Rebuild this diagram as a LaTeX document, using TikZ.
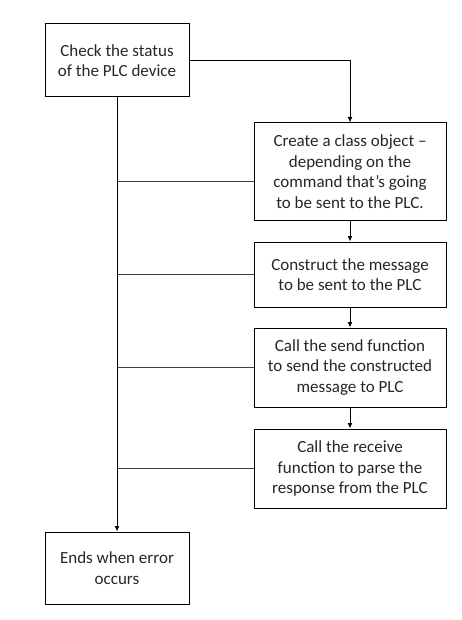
\documentclass[tikz,border=0pt]{standalone}
\usepackage{fontspec}
\setmainfont{Carlito}
\usetikzlibrary{arrows.meta}
\begin{document}
\begin{tikzpicture}[x=1pt,y=1pt,
  box/.style={draw, line width=1pt, inner sep=0pt, align=center, font=\fontsize{17}{20.5}\selectfont, text=black!85},
  side/.style={line width=1pt, draw=black!75},
  arr/.style={line width=1pt, -{Latex[length=5.5pt,width=5pt]}}]
\useasboundingbox (0,0) rectangle (462,-620);
\node[box, minimum width=144pt, minimum height=73pt] (b1) at (117,-60.5) {Check the status\\of the PLC device};
\node[box, minimum width=192pt, minimum height=97pt] (b2) at (350,-171.5) {Create a class object --\\depending on the\\command that’s going\\to be sent to the PLC.};
\node[box, minimum width=192pt, minimum height=65pt] (b3) at (350,-274.5) {Construct the message\\to be sent to the PLC};
\node[box, minimum width=192pt, minimum height=79pt] (b4) at (350,-367.5) {Call the send function\\to send the constructed\\message to PLC};
\node[box, minimum width=192pt, minimum height=79pt] (b5) at (350,-468.5) {Call the receive\\function to parse the\\response from the PLC};
\node[box, minimum width=144pt, minimum height=72pt] (b6) at (117,-568) {Ends when error\\occurs};
\draw[arr] (b1.east) -| (b2.north);
\draw[arr] (b2) -- (b3);
\draw[arr] (b3) -- (b4);
\draw[arr] (b4) -- (b5);
\draw[arr] (b1) -- (b6);
\coordinate (c2) at ([yshift=-10.5pt]b2.west);
\draw[side] (c2) -- (c2 -| b1.south);
\draw[side] (b3.west) -- (b3.west -| b1.south);
\draw[side] (b4.west) -- (b4.west -| b1.south);
\draw[side] (b5.west) -- (b5.west -| b1.south);
\end{tikzpicture}
\end{document}
